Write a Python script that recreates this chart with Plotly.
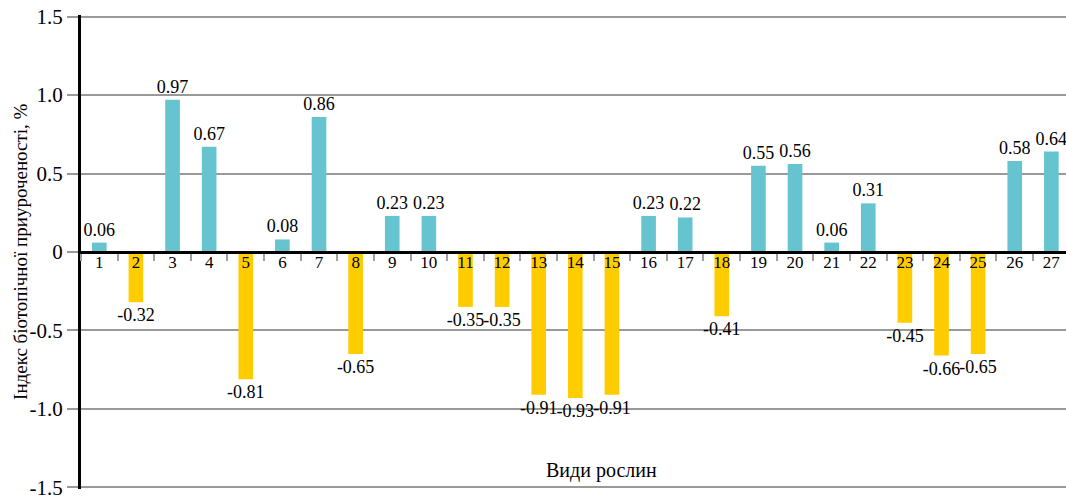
import plotly.graph_objects as go

categories = [str(i) for i in range(1, 28)]
values = [0.06, -0.32, 0.97, 0.67, -0.81, 0.08, 0.86, -0.65, 0.23, 0.23,
          -0.35, -0.35, -0.91, -0.93, -0.91, 0.23, 0.22, -0.41, 0.55, 0.56,
          0.06, 0.31, -0.45, -0.66, -0.65, 0.58, 0.64]
y_ticks = [1.5, 1.0, 0.5, 0, -0.5, -1.0, -1.5]
y_tick_labels = ["1.5", "1.0", "0.5", "0", "-0.5", "-1.0", "-1.5"]

POS = "#66C4D0"
NEG = "#FFCC00"
colors = [POS if v >= 0 else NEG for v in values]
labels = [f"{v:.2f}" for v in values]

FONT = "Liberation Serif"

fig = go.Figure(go.Bar(
    x=categories, y=values,
    marker=dict(color=colors, line=dict(width=0)),
    text=labels, textposition="outside", constraintext="none",
    textfont=dict(family=FONT, size=18, color="black"),
    cliponaxis=False, hoverinfo="x+y",
))

fig.update_layout(
    width=1066, height=497,
    margin=dict(l=81, r=0, t=15, b=8, autoexpand=False),
    plot_bgcolor="white", paper_bgcolor="white",
    bargap=0.6, showlegend=False,
    font=dict(family=FONT, color="black"),
    xaxis=dict(
        type="category", range=[-0.5, 26.4], automargin=False,
        anchor="free", position=0.5,
        showline=True, linecolor="black", linewidth=3,
        ticks="outside", tickson="boundaries", ticklen=7, tickwidth=2,
        tickcolor="#A0A0A0", showgrid=False, ticklabelstandoff=-6,
        tickfont=dict(family=FONT, size=17, color="black"),
        layer="above traces",
    ),
    yaxis=dict(
        range=[-1.51, 1.51], tickvals=y_ticks, ticktext=y_tick_labels,
        automargin=False, ticklabeloverflow="allow",
        showgrid=True, gridcolor="#999999", gridwidth=2,
        zeroline=False,
        showline=True, linecolor="black", linewidth=3,
        ticks="outside", ticklen=11, tickwidth=2, tickcolor="#999999",
        tickfont=dict(family=FONT, size=21, color="black"),
    ),
    annotations=[
        dict(text="Види рослин", xref="paper", yref="paper",
             x=0.5286, y=0.04, xanchor="center", yanchor="middle",
             showarrow=False, font=dict(family=FONT, size=20, color="black")),
        dict(text="Індекс біотопічної приуроченості, %", xref="paper", yref="paper",
             x=-0.062, y=0.5, xanchor="center", yanchor="middle", textangle=-90,
             showarrow=False, font=dict(family=FONT, size=19, color="black")),
    ],
)

fig.write_html("out.html", config={"displayModeBar": False},
               post_script="document.body.style.margin='0';")
